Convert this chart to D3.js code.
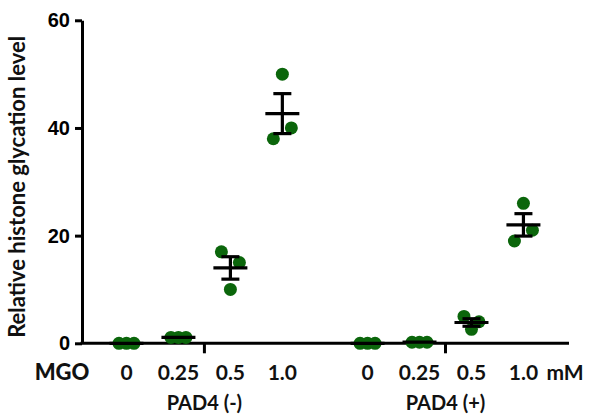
<!DOCTYPE html>
<html>
<head>
<meta charset="utf-8">
<script src="https://cdn.jsdelivr.net/npm/d3@7"></script>
<style>
  html, body { margin: 0; padding: 0; background: #fff; }
  svg { display: block; }
</style>
</head>
<body>
<svg id="chart" width="598" height="414"></svg>
<script>
// MGO doses and PAD4 conditions
const doses = ["0", "0.25", "0.5", "1.0"];
const groups = ["PAD4 (-)", "PAD4 (+)"];
// Replicate measurements (n = 3) for each dose, listed in plate order
const pad4Minus = [[0, 0, 0], [1.1, 1.1, 1.1], [17, 15, 10], [50, 38, 40]];
const pad4Plus = [[0, 0, 0], [0.2, 0.2, 0.2], [5, 2.6, 4], [26, 19, 21]];
const yTicks = [0, 20, 40, 60];
const unitLabel = "mM";
const doseTitle = "MGO";
const yTitle = "Relative histone glycation level";

const svg = d3.select("#chart");
const green = "#0b660b";
const ink = "#111";
const labelFont = "Lato, 'Open Sans', sans-serif";
const r = 6.5;
const groupGap = 4.64; // slot offset of the second group

// Slot index: position of each dose inside the shared horizontal scale
const slot = (g, i) => g * groupGap + i;
const x = d3.scaleLinear().domain([-0.856, 8.517]).range([82, 569]);
const y = d3.scaleLinear().domain([0, 60]).range([343.3, 20.3]);

// Y axis
const yAxis = svg.append("g")
  .attr("transform", `translate(${x(-0.856)},0)`)
  .call(d3.axisLeft(y).tickValues(yTicks).tickSize(7).tickPadding(5).tickSizeOuter(0));
yAxis.select(".domain").attr("stroke", "#000").attr("stroke-width", 3);
yAxis.selectAll(".tick line").attr("stroke", "#000").attr("stroke-width", 3);
yAxis.selectAll(".tick text")
  .attr("font-family", "'Liberation Sans', Arial, sans-serif")
  .attr("font-weight", "bold").attr("font-size", 20).attr("fill", "#000");

// X axis baseline with group separators
svg.append("line")
  .attr("x1", x(-0.856) - 1.5).attr("x2", x(8.517))
  .attr("y1", y(0)).attr("y2", y(0))
  .attr("stroke", "#000").attr("stroke-width", 3);
groups.forEach((gname, g) => {
  const cx = x(slot(g, 1.5));
  svg.append("line")
    .attr("x1", cx).attr("x2", cx)
    .attr("y1", y(0)).attr("y2", y(0) + 10)
    .attr("stroke", "#000").attr("stroke-width", 3);
  svg.append("text")
    .attr("x", cx).attr("y", 410)
    .attr("text-anchor", "middle")
    .attr("font-family", labelFont)
    .attr("font-weight", "bold").attr("font-size", 20)
    .attr("fill", ink)
    .text(gname);
  doses.forEach((d, i) => {
    svg.append("text")
      .attr("x", x(slot(g, i))).attr("y", 380)
      .attr("text-anchor", "middle")
      .attr("font-family", labelFont)
      .attr("font-weight", "bold").attr("font-size", 21)
      .attr("fill", ink)
      .text(d);
  });
});
svg.append("text")
  .attr("x", 62).attr("y", 380).attr("text-anchor", "middle")
  .attr("font-family", labelFont)
  .attr("font-weight", "900").attr("font-size", 22).attr("fill", ink)
  .text(doseTitle);
svg.append("text")
  .attr("x", x(slot(1, 3)) + 23).attr("y", 380).attr("text-anchor", "start")
  .attr("font-family", labelFont)
  .attr("font-weight", "bold").attr("font-size", 21).attr("fill", ink)
  .text(unitLabel);

// Y axis title
svg.append("text")
  .attr("transform", `translate(25,${(y(0) + y(60)) / 2 + 5}) rotate(-90)`)
  .attr("text-anchor", "middle")
  .attr("font-family", labelFont)
  .attr("font-weight", "bold").attr("font-size", 22).attr("fill", ink)
  .text(yTitle);

// Horizontal spread of replicates that would overlap
function spread(vals) {
  const py = vals.map(v => y(v));
  const idx = vals.map((v, k) => k);
  const cluster = new Array(vals.length).fill(-1);
  let c = 0;
  idx.forEach(k => {
    if (cluster[k] >= 0) return;
    cluster[k] = c;
    let changed = true;
    while (changed) {
      changed = false;
      idx.forEach(j => {
        if (cluster[j] >= 0) return;
        if (idx.some(m => cluster[m] === c && Math.abs(py[m] - py[j]) < 2 * r)) {
          cluster[j] = c; changed = true;
        }
      });
    }
    c++;
  });
  return idx.map(k => {
    const members = idx.filter(j => cluster[j] === cluster[k]);
    const n = members.length;
    const pos = members.indexOf(k);
    const step = n === 2 ? 18 : 7.5;
    return (pos - (n - 1) / 2) * step;
  });
}

const series = [pad4Minus, pad4Plus];
series.forEach((rows, g) => {
  rows.forEach((vals, i) => {
    const cx = x(slot(g, i));
    const offs = spread(vals);
    const plot = svg.append("g");
    plot.selectAll("circle").data(vals).join("circle")
      .attr("cx", (v, k) => cx + offs[k])
      .attr("cy", v => y(v))
      .attr("r", r)
      .attr("fill", green);

    const mean = d3.mean(vals);
    const sem = d3.deviation(vals) / Math.sqrt(vals.length);
    const bar = svg.append("g").attr("stroke", "#000").attr("stroke-width", 3.2);
    bar.append("line").attr("x1", cx - 17).attr("x2", cx + 17)
      .attr("y1", y(mean)).attr("y2", y(mean));
    if (sem > 0) {
      bar.append("line").attr("x1", cx).attr("x2", cx)
        .attr("y1", y(mean + sem)).attr("y2", y(mean - sem));
      [mean + sem, mean - sem].forEach(v => {
        bar.append("line").attr("x1", cx - 9).attr("x2", cx + 9)
          .attr("y1", y(v)).attr("y2", y(v));
      });
    }
  });
});
</script>
</body>
</html>
